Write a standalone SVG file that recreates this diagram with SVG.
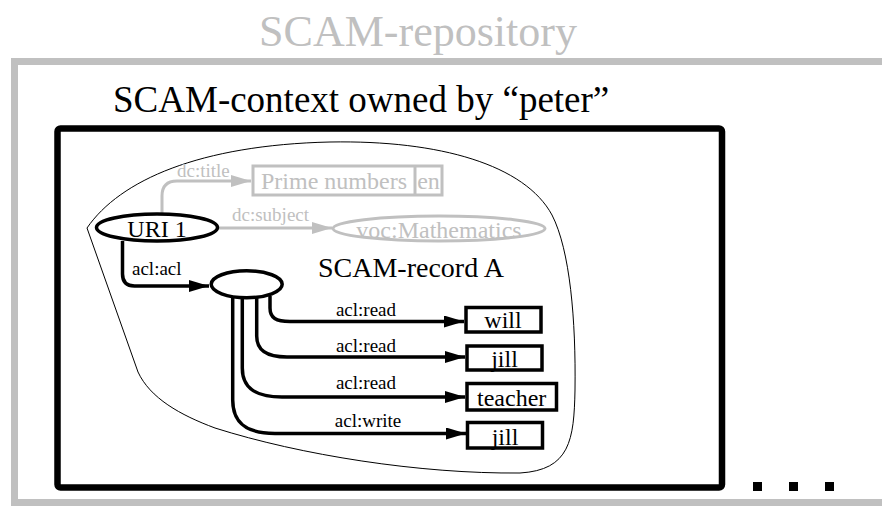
<svg xmlns="http://www.w3.org/2000/svg" width="882" height="506" viewBox="0 0 882 506">
<defs>
<marker id="ab" markerUnits="userSpaceOnUse" markerWidth="22" markerHeight="14" refX="20" refY="6" orient="auto"><path d="M0,0 L20,6 L0,12 z" fill="#000"/></marker>
<marker id="ag" markerUnits="userSpaceOnUse" markerWidth="22" markerHeight="14" refX="20" refY="6" orient="auto"><path d="M0,0 L20,6 L0,12 z" fill="#c0c0c0"/></marker>
<style>
text{font-family:"Liberation Serif","Times New Roman",serif}
.g{fill:#c0c0c0}
.lbl{font-size:19px}
.nt{font-size:24px;text-anchor:middle}
.cb{fill:none;stroke:#000;stroke-width:3.5;marker-end:url(#ab)}
.cg{fill:none;stroke:#c0c0c0;stroke-width:3;marker-end:url(#ag)}
.box{fill:#fff;stroke:#000;stroke-width:3.5}
</style>
</defs>
<text x="418" y="46" class="g" font-size="44" text-anchor="middle">SCAM-repository</text>
<rect x="14.5" y="61.5" width="900" height="441" fill="none" stroke="#c0c0c0" stroke-width="7"/>
<text x="113" y="112" font-size="37">SCAM-context owned by “peter”</text>
<rect x="57.5" y="128.5" width="664.5" height="359" rx="3" fill="none" stroke="#000" stroke-width="6.5"/>
<path d="M87,228 C120,180 200,145 330,142 C440,140 525,165 552,215 C570,250 576,320 575,390 C574,440 570,470 520,473 C420,474 300,455 215,428 C180,415 150,398 138,372 Z" fill="none" stroke="#000" stroke-width="1"/>
<text x="318" y="277" font-size="28">SCAM-record A</text>
<g id="connectors">
<path class="cg" d="M162,213 L162,196 Q162,181 177,181 L251,181"/>
<path class="cg" d="M219,228 L332,228"/>
<path class="cb" d="M122.5,241 L122.5,274 Q122.5,286 134.5,286 L209,286"/>
<path class="cb" d="M270,296 L270,308 C270,318 276,321.5 290,321.5 L464,321.5"/>
<path class="cb" d="M256.7,297 L256.7,336 C256.7,350 266,357 287,357 L465,357"/>
<path class="cb" d="M242.3,297 L242.3,368 C242.3,388 255,397 282,397 L465,397"/>
<path class="cb" d="M232.7,296 L232.7,400 C232.7,422 245,433.5 275,433.5 L466,433.5"/>
<text x="177" y="177" class="lbl g">dc:title</text>
<text x="232" y="221" class="lbl g">dc:subject</text>
<text x="132" y="275" class="lbl">acl:acl</text>
<text x="366" y="316" class="lbl" text-anchor="middle">acl:read</text>
<text x="366" y="352" class="lbl" text-anchor="middle">acl:read</text>
<text x="366" y="389" class="lbl" text-anchor="middle">acl:read</text>
<text x="368" y="427" class="lbl" text-anchor="middle">acl:write</text>
</g>
<g id="uri1">
<ellipse cx="157" cy="227.5" rx="60.5" ry="13.5" fill="#fff" stroke="#000" stroke-width="3.5"/>
<text x="157" y="237" class="nt">URI 1</text>
</g>
<g id="title-literal">
<rect x="253" y="166" width="189" height="29" fill="#fff" stroke="#c0c0c0" stroke-width="3"/>
<line x1="415" y1="166" x2="415" y2="195" stroke="#c0c0c0" stroke-width="3"/>
<text x="334" y="189" class="nt g">Prime numbers</text>
<text x="428.5" y="189" class="nt g">en</text>
</g>
<g id="voc-math">
<ellipse cx="439" cy="228.5" rx="106" ry="12.5" fill="#fff" stroke="#c0c0c0" stroke-width="3"/>
<text x="439" y="237.5" class="nt g">voc:Mathematics</text>
</g>
<g id="acl-node">
<ellipse cx="246.7" cy="284.3" rx="35.5" ry="13.5" fill="#fff" stroke="#000" stroke-width="3.5"/>
</g>
<g id="will">
<rect x="466" y="307.5" width="75" height="24.5" class="box"/>
<text x="503" y="328" class="nt">will</text>
</g>
<g id="jill1">
<rect x="467" y="346" width="75" height="24" class="box"/>
<text x="504.5" y="366.5" class="nt">jill</text>
</g>
<g id="teacher">
<rect x="467" y="383.5" width="89.5" height="26.5" class="box"/>
<text x="511.7" y="406" class="nt">teacher</text>
</g>
<g id="jill2">
<rect x="467.5" y="422.5" width="75" height="25.5" class="box"/>
<text x="505" y="445" class="nt">jill</text>
</g>
<g id="more">
<rect x="753" y="482" width="9" height="9"/>
<rect x="789" y="482" width="9" height="9"/>
<rect x="825" y="482" width="9" height="9"/>
</g>
</svg>
